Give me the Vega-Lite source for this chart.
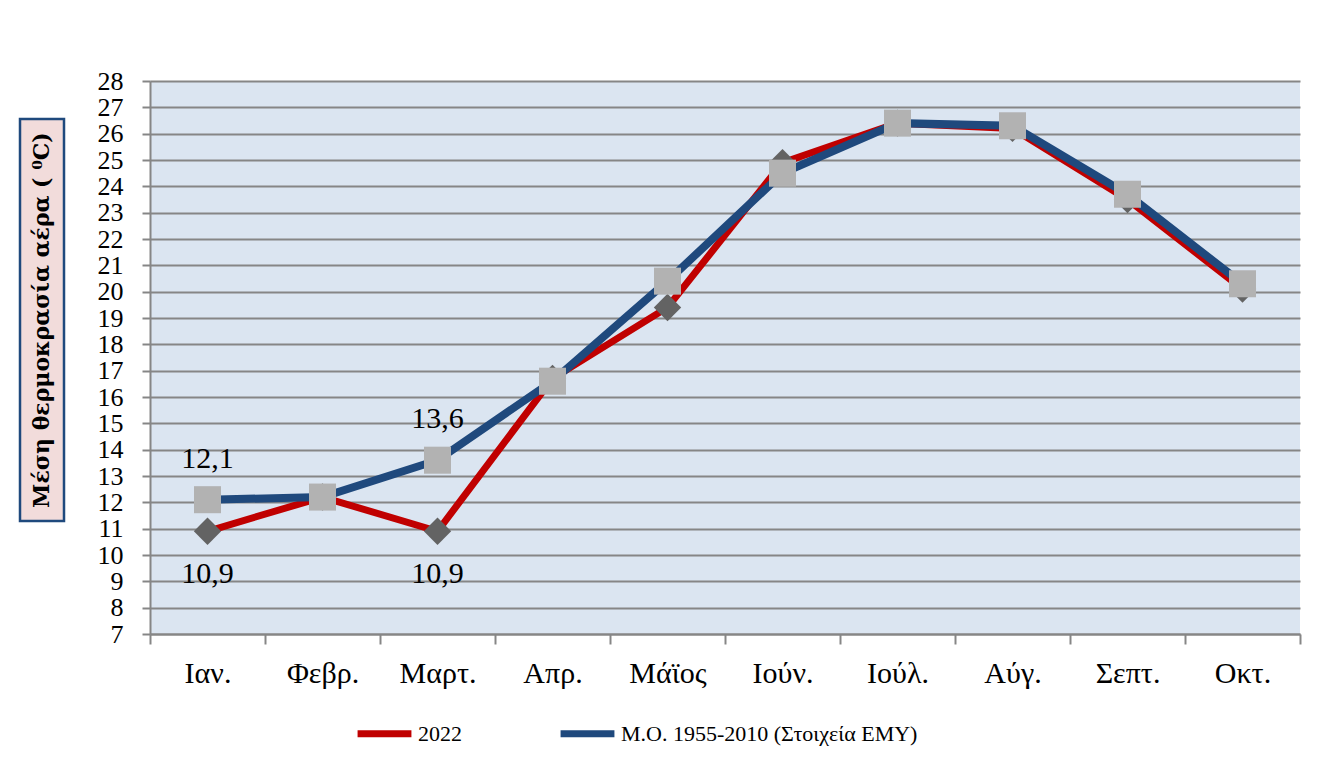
{
  "$schema": "https://vega.github.io/schema/vega-lite/v6.json",
  "background": "white",
  "padding": {"left": 18, "top": 68, "right": 30, "bottom": 0},
  "spacing": 31,
  "config": {
    "locale": {"number": {"decimal": ",", "thousands": ".", "grouping": [3], "currency": ["", " €"]}},
    "view": {"stroke": null}
  },
  "hconcat": [
    {
      "width": 44,
      "height": 553,
      "data": {"values": [{"t": "Μέση  θερμοκρασία αέρα ( ⁰C)"}]},
      "layer": [
        {
          "mark": {"type": "rect", "fill": "#f2dcdb", "stroke": "#1f497d", "strokeWidth": 2.5},
          "encoding": {
            "y": {"datum": 26.56, "type": "quantitative", "scale": {"domain": [7, 28], "nice": false, "zero": false}, "axis": null},
            "y2": {"datum": 11.29}
          }
        },
        {
          "mark": {"type": "text", "angle": 270, "font": "DejaVu Serif", "fontWeight": "bold", "fontSize": 22, "color": "black", "align": "center", "baseline": "middle"},
          "encoding": {
            "y": {"datum": 18.92, "type": "quantitative"},
            "text": {"field": "t"}
          }
        }
      ]
    },
    {
      "width": 1150,
      "height": 553,
      "view": {"fill": "#dbe5f1", "stroke": null},
      "data": {"values": [
        {"month": "Ιαν.", "series": "2022", "value": 10.9},
        {"month": "Φεβρ.", "series": "2022", "value": 12.2},
        {"month": "Μαρτ.", "series": "2022", "value": 10.9},
        {"month": "Απρ.", "series": "2022", "value": 16.7},
        {"month": "Μάϊος", "series": "2022", "value": 19.4},
        {"month": "Ιούν.", "series": "2022", "value": 24.9},
        {"month": "Ιούλ.", "series": "2022", "value": 26.4},
        {"month": "Αύγ.", "series": "2022", "value": 26.2},
        {"month": "Σεπτ.", "series": "2022", "value": 23.5},
        {"month": "Οκτ.", "series": "2022", "value": 20.1},
        {"month": "Ιαν.", "series": "Μ.Ο. 1955-2010 (Στοιχεία ΕΜΥ)", "value": 12.1},
        {"month": "Φεβρ.", "series": "Μ.Ο. 1955-2010 (Στοιχεία ΕΜΥ)", "value": 12.2},
        {"month": "Μαρτ.", "series": "Μ.Ο. 1955-2010 (Στοιχεία ΕΜΥ)", "value": 13.6},
        {"month": "Απρ.", "series": "Μ.Ο. 1955-2010 (Στοιχεία ΕΜΥ)", "value": 16.6},
        {"month": "Μάϊος", "series": "Μ.Ο. 1955-2010 (Στοιχεία ΕΜΥ)", "value": 20.4},
        {"month": "Ιούν.", "series": "Μ.Ο. 1955-2010 (Στοιχεία ΕΜΥ)", "value": 24.5},
        {"month": "Ιούλ.", "series": "Μ.Ο. 1955-2010 (Στοιχεία ΕΜΥ)", "value": 26.4},
        {"month": "Αύγ.", "series": "Μ.Ο. 1955-2010 (Στοιχεία ΕΜΥ)", "value": 26.3},
        {"month": "Σεπτ.", "series": "Μ.Ο. 1955-2010 (Στοιχεία ΕΜΥ)", "value": 23.7},
        {"month": "Οκτ.", "series": "Μ.Ο. 1955-2010 (Στοιχεία ΕΜΥ)", "value": 20.3}
      ]},
      "encoding": {
        "x": {
          "field": "month", "type": "nominal",
          "sort": ["Ιαν.", "Φεβρ.", "Μαρτ.", "Απρ.", "Μάϊος", "Ιούν.", "Ιούλ.", "Αύγ.", "Σεπτ.", "Οκτ."],
          "scale": {"type": "band", "paddingInner": 0, "paddingOuter": 0},
          "axis": {
            "title": null, "tickBand": "extent", "grid": false,
            "domainColor": "#868686", "domainWidth": 2,
            "tickColor": "#868686", "tickWidth": 2, "tickSize": 10,
            "labelFont": "Liberation Serif", "labelFontSize": 30, "labelColor": "black",
            "labelPadding": 14, "labelAngle": 0, "labelOverlap": false
          }
        },
        "y": {
          "field": "value", "type": "quantitative",
          "scale": {"domain": [7, 28], "nice": false, "zero": false},
          "axis": {
            "title": null,
            "values": [7, 8, 9, 10, 11, 12, 13, 14, 15, 16, 17, 18, 19, 20, 21, 22, 23, 24, 25, 26, 27, 28],
            "grid": true, "gridColor": "#868686", "gridWidth": 2,
            "domainColor": "#868686", "domainWidth": 2,
            "tickColor": "#868686", "tickWidth": 2, "tickSize": 8,
            "labelFont": "Liberation Serif", "labelFontSize": 26, "labelColor": "black",
            "labelPadding": 19, "labelFlush": false, "labelOverlap": false
          }
        }
      },
      "layer": [
        {
          "transform": [{"filter": "datum.series === '2022'"}],
          "mark": {"type": "line", "strokeWidth": 7},
          "encoding": {
            "color": {
              "field": "series", "type": "nominal",
              "scale": {"domain": ["2022", "Μ.Ο. 1955-2010 (Στοιχεία ΕΜΥ)"], "range": ["#c00000", "#1f497d"]},
              "legend": {
                "title": null, "orient": "none", "direction": "horizontal",
                "legendX": 334, "legendY": 622,
                "symbolType": "stroke", "symbolStrokeWidth": 7, "symbolSize": 2900,
                "labelFont": "Liberation Serif", "labelFontSize": 22, "labelColor": "black",
                "labelOffset": 3, "labelLimit": 500, "columnPadding": 84, "padding": 0
              }
            }
          }
        },
        {
          "transform": [{"filter": "datum.series === '2022'"}],
          "mark": {"type": "point", "shape": "diamond", "filled": true, "fill": "#636363", "opacity": 1, "size": 750}
        },
        {
          "transform": [{"filter": "datum.series !== '2022'"}],
          "mark": {"type": "line", "strokeWidth": 8},
          "encoding": {"color": {"field": "series", "type": "nominal"}}
        },
        {
          "transform": [{"filter": "datum.series !== '2022'"}],
          "mark": {"type": "point", "shape": "square", "filled": true, "fill": "#b2b2b2", "opacity": 1, "size": 730}
        },
        {
          "transform": [{"filter": "datum.series !== '2022' && (datum.month === 'Ιαν.' || datum.month === 'Μαρτ.')"}],
          "mark": {"type": "text", "font": "Liberation Serif", "fontSize": 30, "color": "black", "dy": -41, "baseline": "middle"},
          "encoding": {"text": {"field": "value", "type": "quantitative", "format": ".1f"}}
        },
        {
          "transform": [{"filter": "datum.series === '2022' && (datum.month === 'Ιαν.' || datum.month === 'Μαρτ.')"}],
          "mark": {"type": "text", "font": "Liberation Serif", "fontSize": 30, "color": "black", "dy": 43, "baseline": "middle"},
          "encoding": {"text": {"field": "value", "type": "quantitative", "format": ".1f"}}
        }
      ]
    }
  ]
}
